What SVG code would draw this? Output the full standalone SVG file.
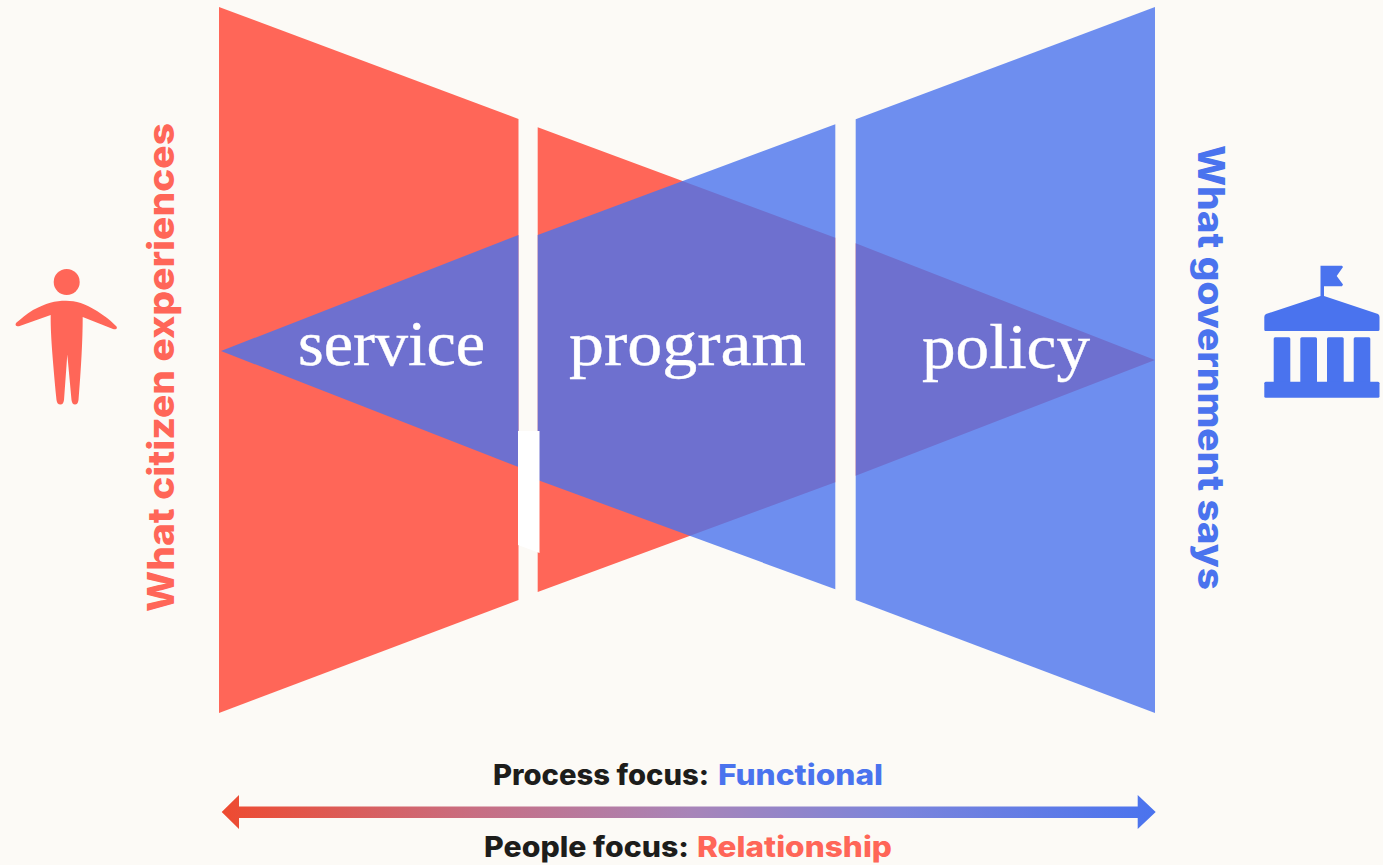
<svg xmlns="http://www.w3.org/2000/svg" width="1383" height="865" viewBox="0 0 1383 865">
<style>
.lbl{font-family:"Inter","Liberation Sans",sans-serif;font-weight:800}
.side{font-size:37px}
.foot{font-size:28px}
.ser{font-family:"Liberation Serif","DejaVu Serif",serif;font-size:64px;fill:#fff;stroke:#fff;stroke-width:.4}
.r{fill:#FF6658}.b{fill:#4A73EE}.k{fill:#1D1D1B}
.o{fill-opacity:.8}
</style>
<defs>
<linearGradient id="g" gradientUnits="userSpaceOnUse" x1="222" y1="0" x2="1156" y2="0">
<stop offset="0" stop-color="#EE4A30"/><stop offset="0.27" stop-color="#C86E82"/><stop offset="0.5" stop-color="#A884B8"/><stop offset="0.73" stop-color="#7A84DC"/><stop offset="1" stop-color="#4A73EE"/>
</linearGradient>
</defs>
<rect width="1383" height="865" fill="#FCFAF6"/>
<g id="bowtie">
<polygon class="r" points="219,7 518.5,119 518.5,600 219,713"/>
<polygon class="r" points="537.7,127.3 835.3,237.7 835.3,482.3 537.7,592"/>
<polygon class="r" points="855.7,243.3 1155,360 855.7,475.7"/>
<polygon class="b o" points="221,351 518.5,235 518.5,467"/>
<polygon class="b o" points="835.3,124.3 835.3,589.3 537.7,480 537.7,235"/>
<polygon class="b o" points="1155,7 855.7,119.3 855.7,600 1155,713"/>
<polygon points="518,431 539.5,431 539.5,553 518,545" fill="#fff"/>
</g>
<g id="service"><text class="ser" x="298" y="365" textLength="187" lengthAdjust="spacingAndGlyphs">service</text></g>
<g id="program"><text class="ser" x="569" y="365" textLength="237" lengthAdjust="spacingAndGlyphs">program</text></g>
<g id="policy"><text class="ser" x="922" y="368" textLength="168" lengthAdjust="spacingAndGlyphs">policy</text></g>
<g id="citizen-label"><text class="lbl side r" transform="translate(174,612) rotate(-90)" textLength="489" lengthAdjust="spacingAndGlyphs">What citizen experiences</text></g>
<g id="government-label"><text class="lbl side b" transform="translate(1198,145) rotate(90)" textLength="445" lengthAdjust="spacingAndGlyphs">What government says</text></g>
<g id="citizen-icon">
<circle class="r" cx="66.7" cy="282" r="13"/>
<path class="r" d="M66 300.7C55 300.7 46 303 33 310C26 314 21 319 16.5 322.5C14.5 325 16 326.5 19 326.2L50.7 315C50.5 332 52 352 56.5 400C57 403 58 404.5 60.5 404.5C62.5 404.5 63.5 403 64 400L67.3 354.5L71.5 400C72 403 73 404.5 75 404.5C77 404.5 78 403 78.5 400C81 370 82.7 340 82.7 317L113 329C116.5 330 118 328 116 326C108 318 103 315 97 311C85 303.5 76 300.7 66 300.7Z"/>
</g>
<g id="government-icon">
<path class="b" d="M1320.5 265.7H1342L1343 267L1336.7 276L1343 284.5L1342 286.2H1324V296L1378 314Q1379.5 315 1379.5 317V329.5Q1379.5 331 1378 331H1265.5Q1264.3 331 1264.3 329.5V317Q1264.3 315 1266 314L1320.5 296Z"/>
<rect class="b" x="1273.7" y="337.3" width="16.6" height="46" rx="1.5"/>
<rect class="b" x="1300.3" y="337.3" width="16.7" height="46" rx="1.5"/>
<rect class="b" x="1327" y="337.3" width="16.7" height="46" rx="1.5"/>
<rect class="b" x="1353.7" y="337.3" width="16.6" height="46" rx="1.5"/>
<rect class="b" x="1264.3" y="381.7" width="115.2" height="16" rx="1.5"/>
</g>
<g id="connectors">
<path fill="url(#g)" d="M221.7 812L239 795V806.5H1137.7V795L1155.7 812L1137.7 829V818H239V829Z"/>
</g>
<g id="process-label">
<text class="lbl foot k" x="493" y="784.5" textLength="216" lengthAdjust="spacingAndGlyphs">Process focus:</text>
<text class="lbl foot b" x="718" y="784.5" textLength="165" lengthAdjust="spacingAndGlyphs">Functional</text>
</g>
<g id="people-label">
<text class="lbl foot k" x="484" y="856.7" textLength="205" lengthAdjust="spacingAndGlyphs">People focus:</text>
<text class="lbl foot r" x="697" y="856.7" textLength="195" lengthAdjust="spacingAndGlyphs">Relationship</text>
</g>
</svg>
